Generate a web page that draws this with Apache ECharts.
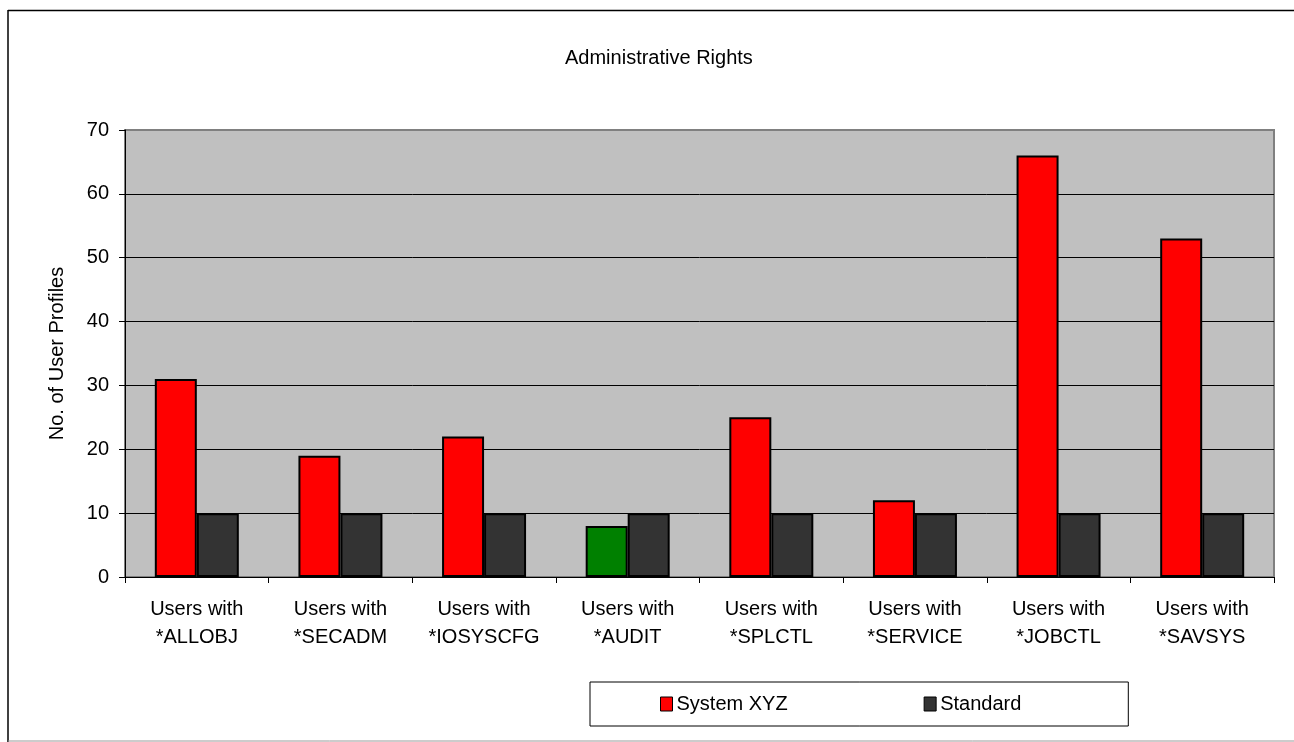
<!DOCTYPE html>
<html>
<head>
<meta charset="utf-8">
<script src="https://cdn.jsdelivr.net/npm/echarts@6/dist/echarts.min.js"></script>
<style>
html,body{margin:0;padding:0;background:#fff;}
#c{width:1294px;height:742px;}
</style>
</head>
<body>
<div id="c"></div>
<script>
const categories = ["Users with\n*ALLOBJ","Users with\n*SECADM","Users with\n*IOSYSCFG","Users with\n*AUDIT","Users with\n*SPLCTL","Users with\n*SERVICE","Users with\n*JOBCTL","Users with\n*SAVSYS"];
const systemXYZ = [31, 19, 22, 8, 25, 12, 66, 53];
const standard = [10, 10, 10, 10, 10, 10, 10, 10];
const yTicks = [0, 10, 20, 30, 40, 50, 60, 70];
const highlightIndex = 3; // AUDIT bar shown in green

const font = 'Liberation Sans, Arial, sans-serif';
const chart = echarts.init(document.getElementById('c'), null, {renderer: 'canvas'});
const sysData = systemXYZ.map((v, i) => i === highlightIndex ? {value: v, itemStyle: {color: '#008000'}} : v);

chart.setOption({
  animation: false,
  backgroundColor: '#fff',
  graphic: [
    {type: 'line', shape: {x1: 8, y1: 10.5, x2: 1294, y2: 10.5}, style: {stroke: '#000', lineWidth: 1.5}, z: -1},
    {type: 'line', shape: {x1: 8, y1: 10, x2: 8, y2: 742}, style: {stroke: '#000', lineWidth: 1.5}, z: -1},
    {type: 'line', shape: {x1: 8, y1: 741, x2: 1294, y2: 741}, style: {stroke: '#999', lineWidth: 1}, z: -1}
  ],
  title: {
    text: 'Administrative Rights', left: 560, top: 43,
    textStyle: {fontFamily: font, fontSize: 20, fontWeight: 'normal', color: '#000'}
  },
  legend: {
    left: 590, top: 682,
    orient: 'horizontal',
    padding: [12, 107, 12, 70],
    itemGap: 136,
    itemWidth: 12, itemHeight: 14,
    borderColor: '#000', borderWidth: 1,
    backgroundColor: '#fff',
    textStyle: {fontFamily: font, fontSize: 20, color: '#000', padding: [0, 0, 0, -1]},
    data: [
      {name: 'System XYZ', icon: 'rect', itemStyle: {color: '#FF0000', borderColor: '#000', borderWidth: 1}},
      {name: 'Standard', icon: 'rect', itemStyle: {color: '#333333', borderColor: '#000', borderWidth: 1}}
    ]
  },
  grid: {
    left: 125, right: 20, top: 130, bottom: 165,
    show: true, backgroundColor: '#C0C0C0', borderColor: '#808080', borderWidth: 2
  },
  xAxis: {
    type: 'category', data: categories,
    axisLine: {lineStyle: {color: '#000'}},
    axisTick: {show: true, alignWithLabel: false, length: 6, lineStyle: {color: '#000'}},
    axisLabel: {fontFamily: font, fontSize: 20, color: '#000', margin: 18, lineHeight: 28, interval: 0}
  },
  yAxis: {
    type: 'value', min: 0, max: 70, interval: 10,
    name: 'No. of User Profiles', nameLocation: 'middle', nameGap: 58, nameRotate: 90,
    nameTextStyle: {fontFamily: font, fontSize: 20, color: '#000'},
    axisLine: {show: true, lineStyle: {color: '#000'}},
    axisTick: {show: true, length: 6, lineStyle: {color: '#000'}},
    axisLabel: {fontFamily: font, fontSize: 20, color: '#000', margin: 16,
      formatter: v => yTicks.includes(v) ? String(v) : ''},
    splitLine: {show: true, showMaxLine: false, lineStyle: {color: '#000', width: 1}}
  },
  series: [
    {name: 'System XYZ', type: 'bar', data: sysData, barWidth: 42, barGap: '0%',
     itemStyle: {color: '#FF0000', borderColor: '#000', borderWidth: 2}},
    {name: 'Standard', type: 'bar', data: standard, barWidth: 42,
     itemStyle: {color: '#333333', borderColor: '#000', borderWidth: 2}}
  ]
});
</script>
</body>
</html>
